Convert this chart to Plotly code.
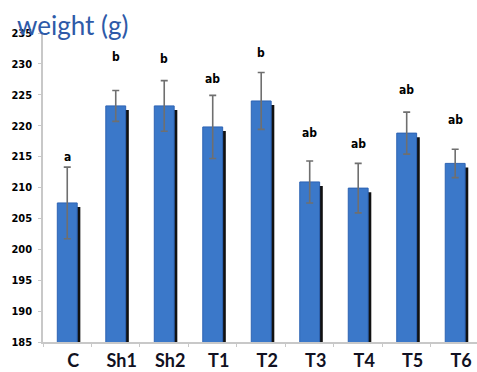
import plotly.graph_objects as go

categories = ["C", "Sh1", "Sh2", "T1", "T2", "T3", "T4", "T5", "T6"]
weight_mean = [207.5, 223.2, 223.2, 219.8, 224.0, 210.9, 209.9, 218.8, 213.9]
weight_err = [5.8, 2.5, 4.1, 5.1, 4.6, 3.4, 4.0, 3.4, 2.3]
letters = ["a", "b", "b", "ab", "b", "ab", "ab", "ab", "ab"]
letter_height = [215.0, 231.1, 230.8, 227.6, 231.8, 218.9, 217.0, 225.8, 220.9]
y_ticks = list(range(185, 240, 5))

BLUE = "#3b78c9"
Y_LO, Y_HI = 185, 235
SHIFT = 0.65  # shadow drawn slightly lower

fig = go.Figure()

# shadow bars (behind)
fig.add_trace(go.Bar(
    x=categories, y=weight_mean, yaxis="y",
    width=0.41, offset=-0.205 + 0.065,
    marker=dict(color="#111111", line=dict(width=0)),
    hoverinfo="skip", showlegend=False,
))

# main bars
fig.add_trace(go.Bar(
    x=categories, y=weight_mean, yaxis="y2",
    width=0.41, offset=-0.205,
    marker=dict(color=BLUE, line=dict(color="#2d63b3", width=1)),
    error_y=dict(type="data", array=weight_err, visible=True,
                 color="#6f6f6f", thickness=1.6, width=3.5),
    showlegend=False,
))

for c, h, t in zip(categories, letter_height, letters):
    fig.add_annotation(
        x=c, y=h, xref="x", yref="y2", text=f"<b>{t}</b>",
        showarrow=False, yanchor="middle",
        font=dict(family="DejaVu Sans Condensed", size=12, color="#000000"),
    )

fig.add_annotation(
    xref="paper", yref="paper", x=-0.065, y=1.0, xanchor="left", yanchor="bottom",
    yshift=-10, text="weight (g)", showarrow=False,
    font=dict(family="Lato", size=26, color="#2e5aa8"),
)

fig.update_layout(
    width=477, height=372,
    margin=dict(l=43, r=0, t=33, b=30),
    paper_bgcolor="white", plot_bgcolor="white",
    barmode="overlay",
    xaxis=dict(
        type="category", range=[-0.5, 8.45],
        showline=True, linecolor="#c8c8c8", linewidth=1.5,
        ticks="outside", tickson="boundaries", ticklen=3, tickcolor="#c8c8c8",
        showgrid=False, ticklabelshift=6, ticklabelstandoff=2,
        tickfont=dict(family="Lato", size=18, color="#111122", weight="bold"),
    ),
    yaxis=dict(
        range=[Y_LO + SHIFT, Y_HI + SHIFT], visible=False, showgrid=False,
    ),
    yaxis2=dict(
        range=[Y_LO, Y_HI], overlaying="y", side="left",
        tickvals=y_ticks, ticktext=[str(v) for v in y_ticks],
        showline=True, linecolor="#c8c8c8", linewidth=1.5,
        ticks="outside", ticklen=3, tickcolor="#c8c8c8",
        showgrid=False, zeroline=False,
        tickfont=dict(family="DejaVu Sans Condensed", size=11, color="#000000",
                      weight="bold"),
        ticklabelstandoff=4,
    ),
)

fig.write_html("out.html", config={"displayModeBar": False},
               post_script="document.body.style.margin='0';")
